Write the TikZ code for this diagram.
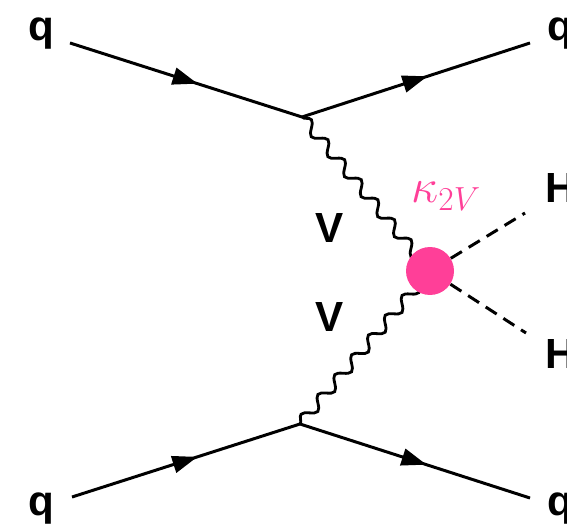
\documentclass[tikz,border=0pt]{standalone}
\usepackage{fontspec}
\newfontfamily\labelfont{Liberation Sans}
\usepackage{tikz}
\usetikzlibrary{arrows.meta}
\usetikzlibrary{decorations.pathmorphing}
\usetikzlibrary{decorations.markings}
\definecolor{kv-pink}{HTML}{FF3F98}

\begin{document}
\begin{tikzpicture}[x=0.02cm, y=-0.02cm,
    quark/.style={line width=1.7pt, decoration={markings, mark=at position 0.55 with {\arrow{Triangle[length=0.5cm, width=0.34cm]}}}, postaction={decorate}},
    boson/.style={line width=1.6pt, decoration={snake, segment length=0.52cm, amplitude=0.11cm}, decorate},
    higgs/.style={line width=1.7pt, dash pattern=on 0.26cm off 0.16cm},
    lbl/.style={font=\labelfont\bfseries\fontsize{24}{28}\selectfont, inner sep=0pt}]
    \useasboundingbox (0,0) rectangle (567,526);

    % External legs and vertices
    \coordinate (qa) at (70,43);
    \coordinate (qb) at (530,43);
    \coordinate (qc) at (72,497);
    \coordinate (qd) at (530,498);
    \coordinate (top) at (302,117);
    \coordinate (bot) at (300,424);
    \coordinate (vvhh) at (430,271);
    \coordinate (ha) at (525,213);
    \coordinate (hb) at (526,333);

    % Quark lines
    \draw[quark] (qa) -- (top);
    \draw[quark] (top) -- (qb);
    \draw[quark] (qc) -- (bot);
    \draw[quark] (bot) -- (qd);

    % Vector bosons
    \draw[boson] (top) -- (vvhh);
    \draw[boson] (bot) -- (vvhh);

    % Quartic coupling blob
    \node[circle, fill=kv-pink, minimum size=0.96cm, inner sep=0pt] (blob) at (vvhh) {};

    % Higgs lines
    \draw[higgs] (blob) -- (ha);
    \draw[higgs] (blob) -- (hb);

    % Labels
    \node[lbl, anchor=base] (qalbl) at (41,41) {q};
    \node[lbl, anchor=base west] (qblbl) at (547,41) {q};
    \node[lbl, anchor=base] (qclbl) at (41,515) {q};
    \node[lbl, anchor=base west] (qdlbl) at (547,515) {q};
    \node[lbl, anchor=base west] (halbl) at (545,203) {H};
    \node[lbl, anchor=base west] (hblbl) at (545,368) {H};
    \node[lbl, anchor=base] (valbl) at (330,243) {V};
    \node[lbl, anchor=base] (vblbl) at (330,332) {V};
    \node[anchor=base west, inner sep=0pt, text=kv-pink, scale=1.1] (kappa) at (411,203) {\fontsize{24}{28}\selectfont$\kappa_{2V}$};
\end{tikzpicture}
\end{document}
